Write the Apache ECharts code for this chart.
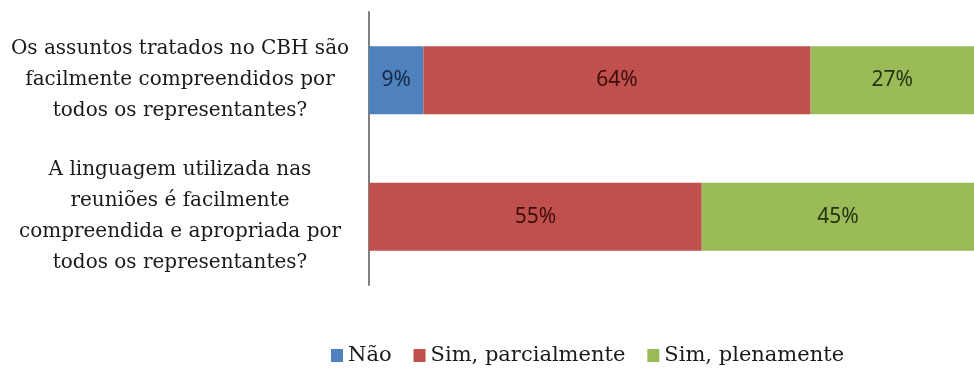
<!DOCTYPE html>
<html>
<head>
<meta charset="utf-8">
<script src="https://cdn.jsdelivr.net/npm/echarts@6/dist/echarts.min.js"></script>
<style>html,body{margin:0;padding:0;background:#fff}#c{width:974px;height:370px}</style>
</head>
<body>
<div id="c"></div>
<script>
const categories = [
  "Os assuntos tratados no CBH são\nfacilmente compreendidos por\ntodos os representantes?",
  "A linguagem utilizada nas\nreuniões é facilmente\ncompreendida e apropriada por\ntodos os representantes?"
];
const seriesNames = ["Não", "Sim, parcialmente", "Sim, plenamente"];
const nao = [9, 0];
const simParcial = [64, 55];
const simPleno = [27, 45];

const colors = ["#4F81BD", "#C0504D", "#9BBB59"];
const labelColors = ["#14294a", "#3d0d0c", "#26330e"];
const values = [nao, simParcial, simPleno];

const chart = echarts.init(document.getElementById('c'));
chart.setOption({
  animation: false,
  grid: { left: 369, right: -8, top: 12, bottom: 85 },
  xAxis: { type: 'value', min: 0, max: 100, show: false },
  yAxis: {
    type: 'category', data: categories, inverse: true,
    axisLine: { show: true, lineStyle: { color: '#808080', width: 2 } },
    axisTick: { show: false },
    axisLabel: {
      fontFamily: 'DejaVu Serif', fontSize: 20, color: '#1a1a1a',
      align: 'center', margin: 189, lineHeight: 31, padding: [8, 0, 0, 0]
    }
  },
  legend: {
    left: 326, top: 340, itemWidth: 12, itemHeight: 13, itemGap: 22,
    icon: 'rect',
    textStyle: { fontFamily: 'DejaVu Serif', fontSize: 21, color: '#1a1a1a' },
    data: seriesNames
  },
  series: seriesNames.map((n, i) => ({
    name: n, type: 'bar', stack: 'total', barWidth: 68,
    itemStyle: { color: colors[i] },
    data: values[i].map(v => v === 0 ? null : v),
    label: {
      show: true, position: 'inside', formatter: p => p.value + '%',
      fontFamily: 'Noto Sans', fontSize: 21, color: labelColors[i]
    }
  }))
});
</script>
</body>
</html>
